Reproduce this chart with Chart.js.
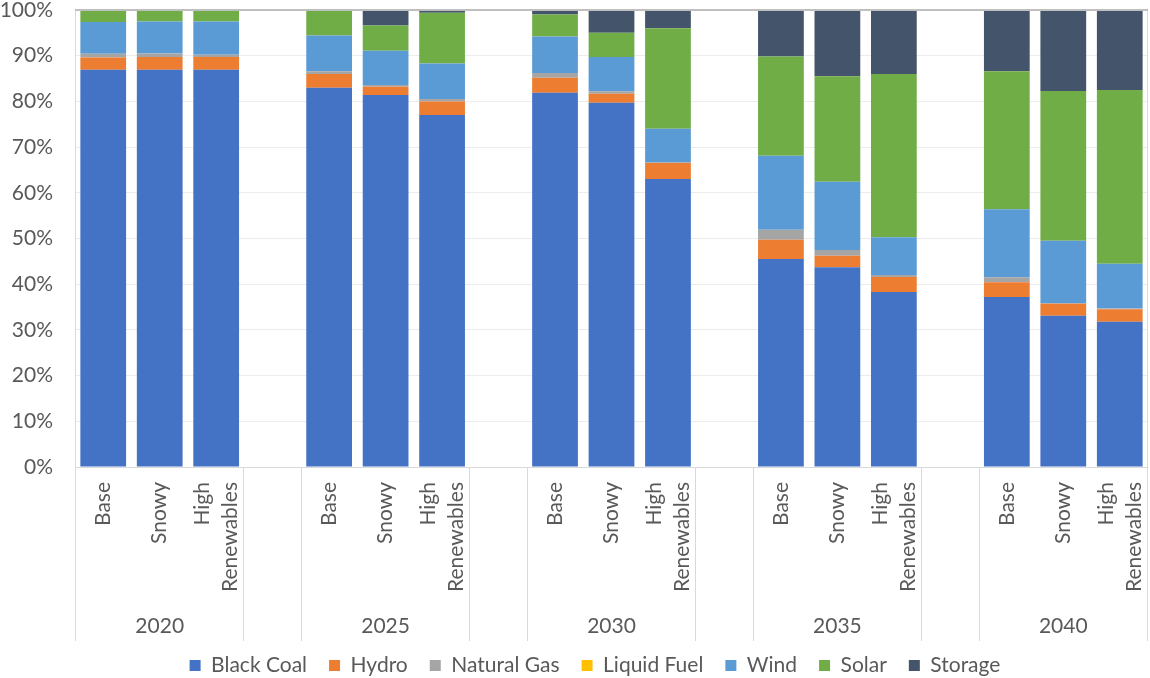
<!DOCTYPE html>
<html>
<head>
<meta charset="utf-8">
<script src="https://cdn.jsdelivr.net/npm/chart.js@4.4.1/dist/chart.umd.min.js"></script>
<style>
html, body { margin: 0; background: #fff; }
canvas { display: block; }
</style>
</head>
<body>
<canvas id="chart" width="1150" height="678"></canvas>
<script>
var years = ["2020", "2025", "2030", "2035", "2040"];
var scenarios = [["Base"], ["Snowy"], ["High", "Renewables"]];
var yTicks = [0, 10, 20, 30, 40, 50, 60, 70, 80, 90, 100];

// shares in %, order: 2020 Base/Snowy/HighRen, 2025 ..., 2040
var blackCoal  = [86.9, 86.9, 86.9, 83.0, 81.4, 77.0, 81.9, 79.7, 63.0, 45.5, 43.7, 38.3, 37.2, 33.1, 31.8];
var hydro      = [2.7, 2.8, 2.8, 3.0, 1.8, 3.0, 3.3, 2.0, 3.5, 4.2, 2.5, 3.3, 3.2, 2.6, 2.7];
var naturalGas = [0.8, 0.8, 0.5, 0.6, 0.4, 0.5, 1.0, 0.5, 0.2, 2.2, 1.3, 0.4, 1.1, 0.2, 0.2];
var liquidFuel = [0, 0, 0, 0, 0, 0, 0, 0, 0, 0, 0, 0, 0, 0, 0];
var wind       = [7.0, 7.0, 7.3, 7.8, 7.5, 7.8, 8.0, 7.5, 7.3, 16.2, 14.9, 8.3, 14.9, 13.6, 9.8];
var solar      = [2.6, 2.5, 2.5, 5.6, 5.5, 11.1, 4.8, 5.3, 22.0, 21.7, 23.1, 35.7, 30.2, 32.8, 38.0];
var storage    = [0, 0, 0, 0, 3.4, 0.6, 1.0, 5.0, 4.0, 10.2, 14.5, 14.0, 13.4, 17.8, 17.5];

var FONT = "Lato";
var TEXT = "#595959";

// one slot per bar, plus an empty slot between year groups
var labels = [];
years.forEach(function (y, g) {
  scenarios.forEach(function (s) { labels.push(s); });
  if (g < years.length - 1) labels.push("");
});

function spread(vals) {
  var out = [];
  years.forEach(function (y, g) {
    for (var k = 0; k < scenarios.length; k++) out.push(vals[g * scenarios.length + k]);
    if (g < years.length - 1) out.push(null);
  });
  return out;
}

var groupAxis = {
  id: "groupAxis",
  afterLayout: function (chart) {
    // legend sits a little right of centre in the original
    if (chart.legend) chart.legend.left += 42;
  },
  afterDraw: function (chart) {
    var ctx = chart.ctx, x = chart.scales.x, area = chart.chartArea;
    var step = x.getPixelForValue(1) - x.getPixelForValue(0);
    var bottom = 641;
    ctx.save();

    // plot border
    ctx.strokeStyle = "#d9d9d9";
    ctx.lineWidth = 1;
    ctx.beginPath();
    ctx.moveTo(area.left + 0.5, area.top);
    ctx.lineTo(area.left + 0.5, area.bottom);
    ctx.moveTo(area.right - 0.5, area.top);
    ctx.lineTo(area.right - 0.5, area.bottom);
    ctx.stroke();
    ctx.strokeStyle = "#bfbfbf";
    ctx.lineWidth = 2;
    ctx.beginPath();
    ctx.moveTo(area.left, area.top);
    ctx.lineTo(area.right, area.top);
    ctx.stroke();

    // separators below the axis
    ctx.strokeStyle = "#d9d9d9";
    ctx.lineWidth = 1;
    ctx.beginPath();
    var per = scenarios.length + 1;
    years.forEach(function (y, g) {
      var first = g * per, last = first + scenarios.length - 1;
      var l = Math.round(x.getPixelForValue(first) - step / 2) + 0.5;
      var r = Math.round(x.getPixelForValue(last) + step / 2) - 0.5;
      ctx.moveTo(l, area.bottom); ctx.lineTo(l, bottom);
      ctx.moveTo(r, area.bottom); ctx.lineTo(r, bottom);
    });
    ctx.stroke();

    // scenario labels, rotated
    ctx.fillStyle = TEXT;
    ctx.font = "21px " + FONT;
    ctx.textAlign = "right";
    ctx.textBaseline = "middle";
    var lineH = 28;
    labels.forEach(function (lab, i) {
      if (!lab) return;
      var cx = x.getPixelForValue(i);
      lab.forEach(function (line, k) {
        var off = (k - (lab.length - 1) / 2) * lineH;
        ctx.save();
        ctx.translate(cx + off, area.bottom + 15);
        ctx.rotate(-Math.PI / 2);
        ctx.fillText(line, 0, 0);
        ctx.restore();
      });
    });

    // year labels
    ctx.textAlign = "center";
    years.forEach(function (y, g) {
      var c = (x.getPixelForValue(g * per) + x.getPixelForValue(g * per + scenarios.length - 1)) / 2;
      ctx.fillText(y, c, 626);
    });
    ctx.restore();
  }
};

var PAD_BOTTOM = -8;

new Chart(document.getElementById("chart"), {
  type: "bar",
  data: {
    labels: labels,
    datasets: [
      { label: "Black Coal", data: spread(blackCoal), backgroundColor: "#4472C4" },
      { label: "Hydro", data: spread(hydro), backgroundColor: "#ED7D31" },
      { label: "Natural Gas", data: spread(naturalGas), backgroundColor: "#A5A5A5" },
      { label: "Liquid Fuel", data: spread(liquidFuel), backgroundColor: "#FFC000" },
      { label: "Wind", data: spread(wind), backgroundColor: "#5B9BD5" },
      { label: "Solar", data: spread(solar), backgroundColor: "#70AD47" },
      { label: "Storage", data: spread(storage), backgroundColor: "#44546A" }
    ]
  },
  options: {
    responsive: false,
    animation: false,
    barPercentage: 0.81,
    categoryPercentage: 1,
    layout: { padding: { top: 10, right: 2, left: 0, bottom: PAD_BOTTOM } },
    scales: {
      x: {
        stacked: true,
        grid: { display: false },
        border: { display: false },
        ticks: { display: false },
        afterFit: function (s) {
          var lh = s.chart.legend ? s.chart.legend.height : 0;
          s.height = 678 - 467 - lh - PAD_BOTTOM;
        }
      },
      y: {
        stacked: true,
        min: 0,
        max: 100,
        afterBuildTicks: function (s) {
          s.ticks = yTicks.map(function (v) { return { value: v }; });
        },
        afterFit: function (s) {
          s.width = 75;
          s.paddingTop = 0;
          s.paddingBottom = 0;
        },
        border: { display: false },
        grid: {
          drawTicks: false,
          color: function (c) { return c.tick.value === 0 ? "#d9d9d9" : "#ececec"; }
        },
        ticks: {
          padding: 22,
          color: TEXT,
          font: { family: FONT, size: 21 },
          callback: function (v) { return v + "%"; }
        }
      }
    },
    plugins: {
      legend: {
        position: "bottom",
        labels: {
          boxWidth: 11,
          boxHeight: 11,
          padding: 22,
          color: TEXT,
          font: { family: FONT, size: 21 }
        }
      },
      tooltip: { enabled: false }
    }
  },
  plugins: [groupAxis]
});
</script>
</body>
</html>
